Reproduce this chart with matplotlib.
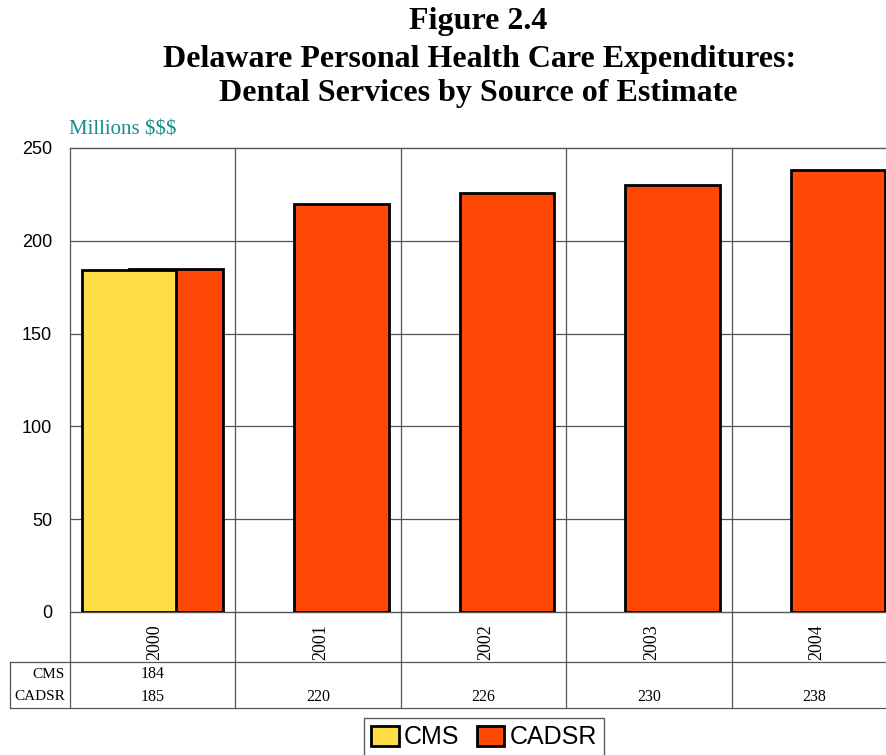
import numpy as np
import matplotlib.pyplot as plt
from matplotlib.patches import Patch
from matplotlib.transforms import blended_transform_factory

# data
years = ['2000', '2001', '2002', '2003', '2004']
cms = [184, None, None, None, None]
cadsr = [185, 220, 226, 230, 238]

yellow = '#FDDE45'
orange = '#FF4805'
grid_c = '#555555'

fig = plt.figure(figsize=(8.86, 7.55), dpi=100)
ax = fig.add_axes([70/886, 1-612/755, 827/886, 464/755])

x = np.arange(len(years))
w = 0.57
off = 0.142
ax.bar(x + off, cadsr, width=w, color=orange, edgecolor='black', linewidth=2, zorder=3)
cms_x = [xi - off for xi, v in zip(x, cms) if v is not None]
cms_v = [v for v in cms if v is not None]
ax.bar(cms_x, cms_v, width=w, color=yellow, edgecolor='black', linewidth=2, zorder=4)

ax.set_xlim(-0.5, len(years) - 0.5)
ax.set_ylim(0, 250)
ax.set_yticks([0, 50, 100, 150, 200, 250])
ax.tick_params(axis='y', length=0, pad=13, labelsize=13)
for lab in ax.get_yticklabels():
    lab.set_fontfamily('Liberation Sans')
ax.set_xticks([])
for y in [50, 100, 150, 200]:
    ax.axhline(y, color=grid_c, lw=0.9, zorder=1)
for s in ['top', 'bottom']:
    ax.spines[s].set_color(grid_c)
    ax.spines[s].set_linewidth(1)
ax.spines['right'].set_visible(False)
ax.spines['left'].set_visible(False)

# data table under the chart
tr = blended_transform_factory(ax.transData, ax.transAxes)
px = 1 / 464.0
y_head = -50 * px
y_mid_cms = -62 * px
y_mid_cad = -85 * px
y_bot = -96 * px
left_x = -0.5 - 60 / 165.5
for b in np.arange(-0.5, len(years), 1.0):
    ax.plot([b, b], [y_bot, 1.0], color=grid_c, lw=0.9, transform=tr, clip_on=False, zorder=1)
ax.plot([left_x, len(years)], [y_head, y_head], color=grid_c, lw=0.9, transform=tr, clip_on=False)
ax.plot([left_x, len(years)], [y_bot, y_bot], color=grid_c, lw=0.9, transform=tr, clip_on=False)
ax.plot([left_x, left_x], [y_bot, y_head], color=grid_c, lw=0.9, transform=tr, clip_on=False)

for xi, yr in zip(x, years):
    ax.text(xi + 0.015, y_head + 1.5 * px, yr, rotation=90, ha='center', va='bottom',
            fontfamily='Liberation Serif', fontsize=13, transform=tr)
for xi, v in zip(x, cms):
    if v is not None:
        ax.text(xi, y_mid_cms, str(v), ha='center', va='center',
                fontfamily='Liberation Serif', fontsize=11.5, transform=tr)
for xi, v in zip(x, cadsr):
    ax.text(xi, y_mid_cad, str(v), ha='center', va='center',
            fontfamily='Liberation Serif', fontsize=11.5, transform=tr)
lx = -0.5 - 5 / 165.5
ax.text(lx, y_mid_cms, 'CMS', ha='right', va='center', fontfamily='Liberation Serif',
        fontsize=11, transform=tr)
ax.text(lx, y_mid_cad, 'CADSR', ha='right', va='center', fontfamily='Liberation Serif',
        fontsize=11, transform=tr)

# titles
fig.text(478/886, 1-21/755, 'Figure 2.4', ha='center', va='center',
         fontfamily='Liberation Serif', fontweight='bold', fontsize=23)
fig.text(480/886, 1-59/755, 'Delaware Personal Health Care Expenditures:', ha='center',
         va='center', fontfamily='Liberation Serif', fontweight='bold', fontsize=23)
fig.text(478/886, 1-93/755, 'Dental Services by Source of Estimate', ha='center',
         va='center', fontfamily='Liberation Serif', fontweight='bold', fontsize=23)
fig.text(69/886, 1-130/755, 'Millions $$$', ha='left', va='center',
         fontfamily='Liberation Serif', fontsize=15, color='#1A8C8C')

handles = [Patch(facecolor=yellow, edgecolor='black', linewidth=2, label='CMS'),
           Patch(facecolor=orange, edgecolor='black', linewidth=2, label='CADSR')]
leg = fig.legend(handles=handles, loc='upper center', bbox_to_anchor=(484/886, 1-718/755),
                 ncol=2, frameon=True, fancybox=False, prop={'family': 'Liberation Sans', 'size': 18},
                 handlelength=1.1, handleheight=0.85, handletextpad=0.2, columnspacing=0.7,
                 borderpad=0.3, borderaxespad=0)
leg.get_frame().set_edgecolor('#333333')
leg.get_frame().set_linewidth(1)

fig.savefig('out.png', dpi=100)
